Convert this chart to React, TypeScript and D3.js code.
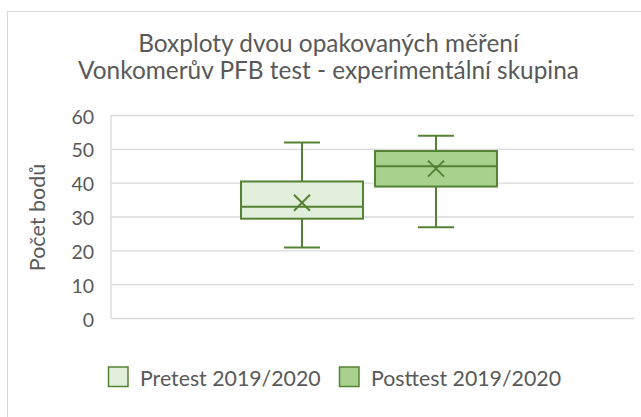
import React from "react";
import * as d3 from "d3";

const titleLines = ["Boxploty dvou opakovaných měření", "Vonkomerův PFB test - experimentální skupina"];
const yAxisTitle = "Počet bodů";
const seriesNames = ["Pretest 2019/2020", "Posttest 2019/2020"];
const mins = [21, 27];
const q1s = [29.5, 39];
const medians = [33, 45];
const q3s = [40.5, 49.5];
const maxs = [52, 54];
const means = [34.2, 44.3];
const yTicks = [0, 10, 20, 30, 40, 50, 60];
const fills = ["#e2efda", "#a9d18e"];
const stroke = "#548235";

const W = 641, H = 417;
const plot = { left: 111, right: 634, top: 115.5, bottom: 318.5 };
const FONT = "Lato, 'Open Sans', sans-serif";
const TXT = "#595959";

export default function App() {
  const y = d3.scaleLinear().domain([0, 60]).range([plot.bottom, plot.top]);
  const xCat = d3.scaleBand().domain(["g"]).range([plot.left, 627]).paddingOuter(0.508).paddingInner(0);
  const xSer = d3.scaleBand().domain(seriesNames).range([0, xCat.bandwidth()]).paddingInner(0.09);
  const boxes = seriesNames.map((name, i) => {
    const x0 = (xCat("g") as number) + (xSer(name) as number);
    const w = xSer.bandwidth();
    return { name, i, x0, w, cx: x0 + w / 2 };
  });
  return (
    <svg width={W} height={H} style={{ position: "absolute", left: 0, top: 0, background: "#fff" }}>
      <rect x={7.5} y={11.5} width={W} height={H} fill="#fff" stroke="#d9d9d9" strokeWidth={1} />
      {titleLines.map((t, i) => (
        <text key={i} x={328.5} y={52 + i * 26.5} textAnchor="middle" fontFamily={FONT} fontSize={24.4} fill={TXT}>{t}</text>
      ))}
      {yTicks.map((t) => (
        <g key={t}>
          <line x1={plot.left} x2={plot.right} y1={y(t)} y2={y(t)} stroke="#d9d9d9" strokeWidth={1.3} />
          <text x={94} y={y(t) + 8} textAnchor="end" fontFamily={FONT} fontSize={19.5} fill={TXT}>{t}</text>
        </g>
      ))}
      <line x1={plot.left} x2={plot.left} y1={plot.top} y2={plot.bottom} stroke="#d9d9d9" strokeWidth={1.3} />
      <text transform={`translate(45,217.5) rotate(-90)`} textAnchor="middle" fontFamily={FONT} fontSize={21.5} fill={TXT}>{yAxisTitle}</text>
      {boxes.map((b) => {
        const i = b.i;
        const capW = 36;
        const m = 8;
        return (
          <g key={b.name}>
            <line x1={b.cx} x2={b.cx} y1={y(maxs[i])} y2={y(q3s[i])} stroke={stroke} strokeWidth={2} />
            <line x1={b.cx} x2={b.cx} y1={y(q1s[i])} y2={y(mins[i])} stroke={stroke} strokeWidth={2} />
            <line x1={b.cx - capW / 2} x2={b.cx + capW / 2} y1={y(maxs[i])} y2={y(maxs[i])} stroke={stroke} strokeWidth={2} />
            <line x1={b.cx - capW / 2} x2={b.cx + capW / 2} y1={y(mins[i])} y2={y(mins[i])} stroke={stroke} strokeWidth={2} />
            <rect x={b.x0} y={y(q3s[i])} width={b.w} height={y(q1s[i]) - y(q3s[i])} fill={fills[i]} stroke={stroke} strokeWidth={2} />
            <line x1={b.x0} x2={b.x0 + b.w} y1={y(medians[i])} y2={y(medians[i])} stroke={stroke} strokeWidth={2} />
            <path d={`M${b.cx - m},${y(means[i]) - m}L${b.cx + m},${y(means[i]) + m}M${b.cx - m},${y(means[i]) + m}L${b.cx + m},${y(means[i]) - m}`} stroke={stroke} strokeWidth={2} fill="none" />
          </g>
        );
      })}
      {[{ x: 108.5, tx: 140 }, { x: 339.5, tx: 371 }].map((l, i) => (
        <g key={i}>
          <rect x={l.x} y={367} width={19.5} height={19.5} fill={fills[i]} stroke={stroke} strokeWidth={1.5} />
          <text x={l.tx} y={385.5} fontFamily={FONT} fontSize={21.3} fill={TXT}>{seriesNames[i]}</text>
        </g>
      ))}
    </svg>
  );
}
